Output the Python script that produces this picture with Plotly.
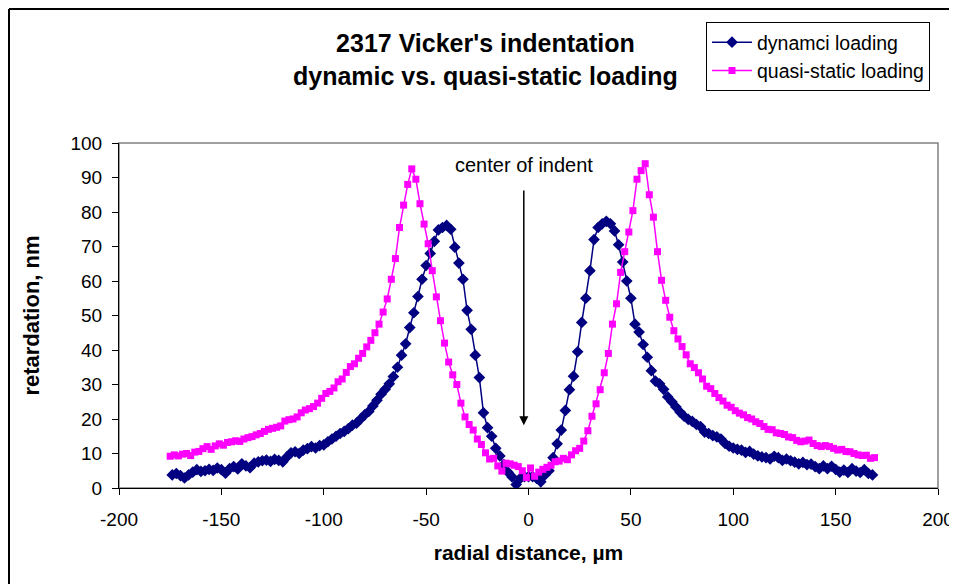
import plotly.graph_objects as go

# ---------------- data ----------------
dyn_x = [-174, -172, -170, -168, -166, -164, -162, -160, -158, -156, -154, -152, -150, -148, -146, -144, -142, -140,
         -138, -136, -134, -132, -130, -128, -126, -124, -122, -120, -118, -116, -114, -112, -110, -108, -106, -104,
         -102, -100, -98, -96, -94, -92, -90, -88, -86, -84, -82, -80, -78, -76, -74, -72, -70, -68,
         -66, -64, -62, -60, -58, -56, -54, -52, -50, -48, -46, -44, -42, -40, -38, -36, -34, -32,
         -30, -28, -26, -24, -22, -20, -18, -16, -14, -12, -10, -8, -6, -4, -2, 0, 2, 4,
         6, 8, 10, 12, 14, 16, 18, 20, 22, 24, 26, 28, 30, 32, 34, 36, 38, 40,
         42, 44, 46, 48, 50, 52, 54, 56, 58, 60, 62, 64, 66, 68, 70, 72, 74, 76,
         78, 80, 82, 84, 86, 88, 90, 92, 94, 96, 98, 100, 102, 104, 106, 108, 110, 112,
         114, 116, 118, 120, 122, 124, 126, 128, 130, 132, 134, 136, 138, 140, 142, 144, 146, 148,
         150, 152, 154, 156, 158, 160, 162, 164, 166, 168]
dyn_y = [3.8, 4.2, 3.6, 2.9, 3.8, 4.6, 5.3, 4.8, 5.0, 5.4, 5.1, 5.8, 5.3, 4.3, 5.6, 6.2, 5.5, 7.0,
         6.4, 5.9, 7.2, 7.6, 7.9, 8.1, 7.7, 8.3, 8.0, 7.6, 9.0, 10.2, 10.5, 10.0, 11.0, 11.4, 12.0, 11.6,
         12.3, 12.5, 13.4, 14.2, 15.0, 15.8, 16.4, 17.2, 18.2, 18.8, 20.0, 21.2, 22.2, 23.8, 25.4, 27.2, 28.6, 30.2,
         32.3, 35.0, 38.5, 41.8, 46.5, 50.8, 55.5, 60.5, 64.5, 68.0, 71.5, 74.8, 75.5, 76.1, 75.0, 69.8, 65.2, 60.5,
         51.5, 46.0, 38.5, 32.0, 21.8, 17.5, 15.0, 11.5, 9.3, 6.8, 4.6, 3.2, 1.0, 2.8, 3.3, 3.3, 3.3, 2.8,
         1.8, 3.8, 5.0, 8.8, 12.8, 16.8, 22.5, 28.5, 32.4, 39.5, 48.0, 55.0, 63.0, 72.0, 75.5, 76.6, 77.3, 76.6,
         74.5, 70.5, 65.5, 60.0, 55.0, 47.5, 45.2, 41.6, 37.9, 34.0, 31.0, 30.2, 28.6, 26.4, 25.0, 23.5, 22.0, 20.8,
         19.9, 19.3, 18.4, 17.8, 16.2, 15.8, 15.2, 14.8, 14.2, 12.9, 12.1, 11.6, 11.2, 11.0, 10.3, 10.6, 9.8, 9.3,
         9.0, 8.8, 8.4, 9.2, 8.8, 8.0, 8.4, 7.9, 7.5, 7.0, 7.4, 6.8, 6.9, 6.2, 5.6, 6.4, 5.6, 6.3,
         5.4, 4.6, 5.2, 4.5, 5.6, 4.9, 4.5, 5.3, 4.2, 3.8]

qs_x = [-175, -173, -171, -169, -167, -165, -163, -161, -159, -157, -155, -153, -151, -149, -147, -145, -143, -141,
        -139, -137, -135, -133, -131, -129, -127, -125, -123, -121, -119, -117, -115, -113, -111, -109, -107, -105,
        -103, -101, -99, -97, -95, -93, -91, -89, -87, -85, -83, -81, -79, -77, -75, -73, -71, -69,
        -67, -65, -63, -61, -59, -57, -55, -53, -51, -49, -47, -45, -43, -41, -39, -37, -35, -33,
        -31, -29, -27, -25, -23, -21, -19, -17, -15, -13, -11, -9, -7, -5, -3, -1, 1, 3,
        5, 7, 9, 11, 13, 15, 17, 19, 21, 23, 25, 27, 29, 31, 33, 35, 37, 39,
        41, 43, 45, 47, 49, 51, 53, 55, 57, 59, 61, 63, 65, 67, 69, 71, 73, 75,
        77, 79, 81, 83, 85, 87, 89, 91, 93, 95, 97, 99, 101, 103, 105, 107, 109, 111,
        113, 115, 117, 119, 121, 123, 125, 127, 129, 131, 133, 135, 137, 139, 141, 143, 145, 147,
        149, 151, 153, 155, 157, 159, 161, 163, 165, 167, 169]
qs_y = [9.2, 9.6, 9.3, 9.8, 10.0, 9.4, 10.4, 10.6, 11.4, 12.0, 11.2, 12.2, 12.8, 12.4, 13.2, 13.4, 13.7, 13.5,
        14.2, 14.6, 14.9, 15.4, 15.8, 16.4, 17.0, 17.3, 17.6, 18.0, 19.4, 19.8, 20.0, 20.6, 21.8, 22.6, 23.0, 23.6,
        24.6, 26.0, 27.4, 28.0, 29.0, 30.8, 31.6, 33.5, 35.2, 36.0, 37.6, 39.0, 40.9, 42.8, 45.0, 47.5, 51.0, 54.8,
        60.5, 66.5, 75.5, 82.0, 88.0, 92.5, 89.5, 82.4, 76.5, 70.8, 63.0, 55.4, 48.5, 42.0, 36.5, 32.8, 30.0, 24.6,
        20.6, 18.4, 16.8, 14.2, 12.6, 10.2, 8.4, 8.6, 6.4, 4.9, 7.2, 7.0, 6.6, 6.2, 5.0, 3.0, 5.8, 3.4,
        4.6, 5.4, 6.0, 6.6, 7.6, 7.8, 8.6, 8.2, 9.6, 10.8, 11.5, 13.6, 16.6, 20.8, 24.4, 28.5, 33.4, 39.0,
        47.5, 53.4, 62.5, 68.5, 74.2, 80.4, 89.5, 92.0, 94.0, 85.0, 78.5, 68.5, 60.2, 54.4, 49.5, 45.6, 43.2, 41.0,
        38.6, 36.0, 34.9, 33.4, 31.6, 29.5, 28.8, 27.4, 26.2, 25.2, 24.0, 23.4, 22.4, 21.7, 21.2, 20.4, 20.0, 19.2,
        18.7, 17.8, 17.0, 16.9, 16.0, 15.8, 15.5, 14.8, 14.6, 13.8, 13.4, 13.6, 13.9, 12.9, 12.3, 12.0, 12.3, 12.0,
        11.5, 11.0, 11.2, 10.6, 10.5, 10.0, 9.6, 9.4, 9.5, 8.6, 8.8]

x_ticks = [-200, -150, -100, -50, 0, 50, 100, 150, 200]
y_ticks = [0, 10, 20, 30, 40, 50, 60, 70, 80, 90, 100]

series_names = ["dynamci loading", "quasi-static loading"]
title_text = "2317 Vicker's indentation<br>dynamic vs. quasi-static loading"
x_title = "radial distance, µm"
y_title = "retardation, nm"
note_text = "center of indent"
note_x = -2.3
note_text_y = 93.7
arrow_top_y = 86.7
arrow_tip_y = 18.2

# ---------------- figure ----------------
FONT = "Liberation Sans, Arial, sans-serif"
OFF = 8  # page body margin
W, H = 957, 584
ML, MT = 111, 135
PW, PH = 819, 345
MR, MB = W - ML - PW, H - MT - PH


def px(sx):
    """screen x -> paper x"""
    return (sx - OFF - ML) / PW


def py(sy):
    """screen y -> paper y"""
    return (H - MB - (sy - OFF)) / PH


fig = go.Figure()
fig.add_trace(go.Scatter(
    x=dyn_x, y=dyn_y, mode="lines+markers", name=series_names[0],
    line=dict(color="#000080", width=1.5),
    marker=dict(symbol="diamond", size=9, color="#000080"),
))
fig.add_trace(go.Scatter(
    x=qs_x, y=qs_y, mode="lines+markers", name=series_names[1],
    line=dict(color="#FF00FF", width=1.5),
    marker=dict(symbol="square", size=7, color="#FF00FF"),
))

fig.update_layout(
    width=W, height=H,
    margin=dict(l=ML, r=MR, t=MT, b=MB),
    paper_bgcolor="white", plot_bgcolor="white",
    font=dict(family=FONT, size=19, color="black"),
    showlegend=True,
    legend=dict(
        x=px(706), y=py(22), xanchor="left", yanchor="top",
        bgcolor="white", bordercolor="black", borderwidth=1,
        font=dict(family=FONT, size=19.5, color="black"),
        itemwidth=40,
    ),
    xaxis=dict(
        range=[-200, 200], tickvals=x_ticks, ticktext=[str(v) for v in x_ticks],
        showgrid=False, zeroline=False, showline=True, linecolor="black", linewidth=1,
        ticks="outside", ticklen=6, tickcolor="black", ticklabelstandoff=8,
        tickfont=dict(family=FONT, size=19),
        title=dict(text="<b>" + x_title + "</b>", font=dict(family=FONT, size=21), standoff=16),
    ),
    yaxis=dict(
        range=[0, 100], tickvals=y_ticks, ticktext=[str(v) for v in y_ticks],
        showgrid=False, zeroline=False, showline=True, linecolor="black", linewidth=1,
        ticks="outside", ticklen=6, tickcolor="black", ticklabelstandoff=6,
        tickfont=dict(family=FONT, size=19),
        title=dict(text="<b>" + y_title + "</b>", font=dict(family=FONT, size=22), standoff=24),
    ),
    shapes=[
        # plot-area border (gray)
        dict(type="rect", xref="paper", yref="paper", x0=0, x1=1, y0=0, y1=1,
             line=dict(color="#808080", width=1.5), layer="below"),
        # chart-area border (left + top)
        dict(type="line", xref="paper", yref="paper", x0=px(9), x1=px(9), y0=py(9), y1=py(620),
             line=dict(color="black", width=2)),
        dict(type="line", xref="paper", yref="paper", x0=px(9), x1=px(1000), y0=py(9), y1=py(9),
             line=dict(color="black", width=2)),
    ],
    annotations=[
        dict(text="<b>" + title_text + "</b>", xref="paper", yref="paper",
             x=px(485), y=py(60), xanchor="center", yanchor="middle", showarrow=False,
             font=dict(family=FONT, size=25, color="black")),
        dict(text=note_text, x=note_x, y=note_text_y, xref="x", yref="y",
             showarrow=False, font=dict(family=FONT, size=20, color="black")),
        dict(text="", x=note_x, y=arrow_tip_y, xref="x", yref="y",
             ax=note_x, ay=arrow_top_y, axref="x", ayref="y",
             showarrow=True, arrowhead=2, arrowsize=1.2, arrowwidth=1.5, arrowcolor="black"),
    ],
)

fig.write_html("out.html")
